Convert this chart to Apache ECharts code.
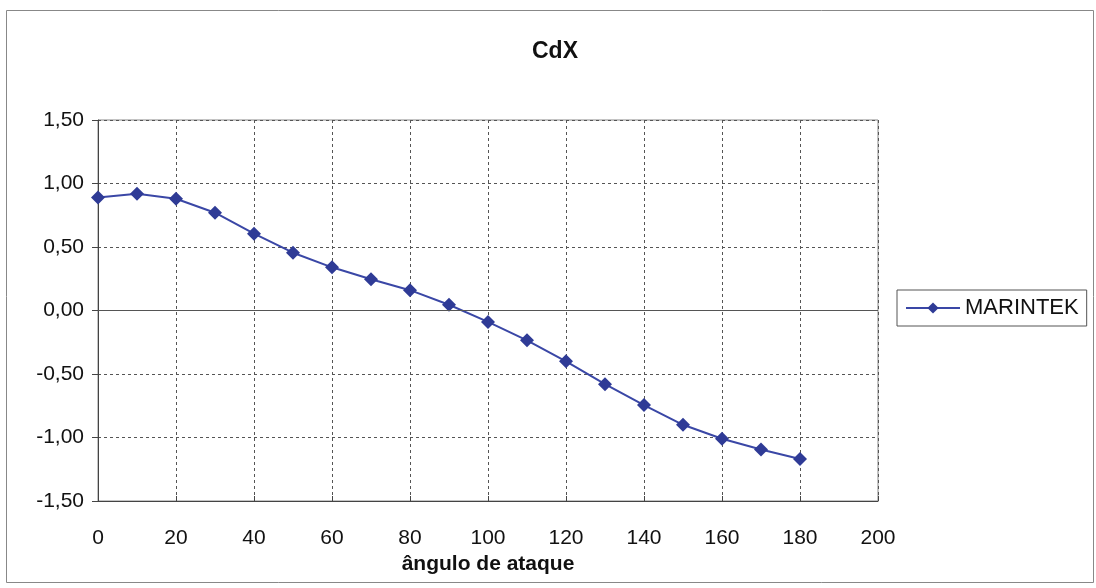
<!DOCTYPE html>
<html>
<head>
<meta charset="utf-8">
<script src="https://cdn.jsdelivr.net/npm/echarts@6/dist/echarts.min.js"></script>
<style>html,body{margin:0;padding:0;background:#fff}#c{width:1096px;height:588px}</style>
</head>
<body>
<div id="c"></div>
<script>
const angles = [0,10,20,30,40,50,60,70,80,90,100,110,120,130,140,150,160,170,180];
const cdx = [0.89,0.92,0.88,0.77,0.605,0.455,0.34,0.246,0.16,0.045,-0.09,-0.235,-0.40,-0.58,-0.745,-0.90,-1.01,-1.095,-1.17];
const seriesName = 'MARINTEK';
const titleText = 'CdX';
const xName = 'ângulo de ataque';

const chart = echarts.init(document.getElementById('c'));
const font = 'Liberation Sans, Arial, sans-serif';
chart.setOption({
  animation: false,
  backgroundColor: '#fff',
  title: {
    text: titleText, left: 550, top: 35, textAlign: 'center',
    textStyle: {fontFamily: font, fontSize: 23, fontWeight: 'bold', color: '#111'}
  },
  graphic: [{
    type: 'rect', left: 4, top: 8, shape: {width: 1087, height: 572},
    style: {fill: 'none', stroke: '#888', lineWidth: 1}, z: -1
  }],
  legend: {
    left: 897, top: 290, orient: 'vertical',
    data: [{name: seriesName}],
    borderColor: '#555', borderWidth: 1, padding: [7, 8, 7, 8],
    itemWidth: 54, itemHeight: 14, itemGap: 4,
    textStyle: {fontFamily: font, fontSize: 22, color: '#111'}
  },
  grid: {left: 98, right: 218, top: 120, bottom: 87, show: true, borderColor: '#888', borderWidth: 1},
  xAxis: {
    type: 'value', min: 0, max: 200, interval: 20,
    name: xName, nameLocation: 'middle', nameGap: 52,
    nameTextStyle: {fontFamily: font, fontSize: 21, fontWeight: 'bold', color: '#111'},
    axisLine: {onZero: false, lineStyle: {color: '#444'}},
    axisTick: {show: true, inside: true, length: 5, lineStyle: {color: '#444'}},
    axisLabel: {fontFamily: font, fontSize: 21, color: '#111', margin: 27},
    splitLine: {show: true, lineStyle: {color: '#555', type: [3, 3], width: 1}}
  },
  yAxis: {
    type: 'value', min: -1.5, max: 1.5, interval: 0.5,
    axisLine: {show: true, lineStyle: {color: '#444'}},
    axisTick: {show: true, length: 6, lineStyle: {color: '#444'}},
    axisLabel: {fontFamily: font, fontSize: 21, color: '#111', margin: 14,
      formatter: v => v.toFixed(2).replace('.', ',')},
    splitLine: {show: true, lineStyle: {color: '#555', type: [3, 3], width: 1}}
  },
  series: [{
    name: seriesName, type: 'line',
    data: angles.map((a, i) => [a, cdx[i]]),
    symbol: 'diamond', symbolSize: 14,
    lineStyle: {color: '#3a47a6', width: 2},
    itemStyle: {color: '#2f3b96'},
    markLine: {
      silent: true, symbol: 'none', label: {show: false},
      lineStyle: {color: '#555', type: 'solid', width: 1},
      data: [{yAxis: 0}]
    }
  }]
});
</script>
</body>
</html>
